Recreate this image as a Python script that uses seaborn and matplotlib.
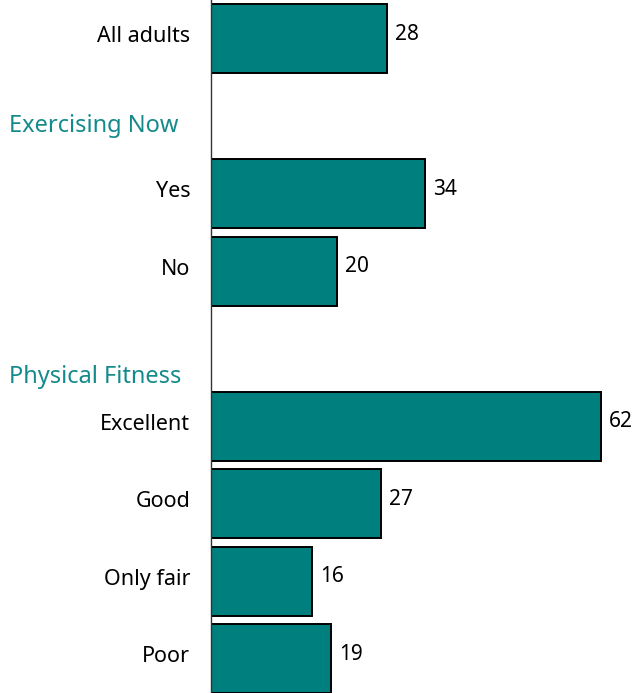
import matplotlib
matplotlib.use("Agg")
import matplotlib.pyplot as plt
import matplotlib.transforms as mtransforms
import seaborn as sns
import pandas as pd

# Share of adults by group (percent)
overall_labels = ["All adults"]
overall_values = [28]

exercise_header = "Exercising Now"
exercise_labels = ["Yes", "No"]
exercise_values = [34, 20]

fitness_header = "Physical Fitness"
fitness_labels = ["Excellent", "Good", "Only fair", "Poor"]
fitness_values = [62, 27, 16, 19]

BAR_COLOR = "#007F7F"
HEADER_COLOR = "#148A8A"

groups = [
    (None, overall_labels, overall_values),
    (exercise_header, exercise_labels, exercise_values),
    (fitness_header, fitness_labels, fitness_values),
]

# Lay out rows: each section header takes one slot above its bars
rows, headers = [], []
slot = 0
for header, labels, values in groups:
    if header is not None:
        headers.append((header, slot))
        slot += 1
    for lab, val in zip(labels, values):
        rows.append({"label": lab, "value": val, "pos": slot})
        slot += 1
df = pd.DataFrame(rows)

sns.set_theme(style="white")
plt.rcParams["font.family"] = ["Noto Sans", "DejaVu Sans"]

fig = plt.figure(figsize=(6.34, 6.93), dpi=100)
ax = fig.add_axes([211 / 634, 0, 1 - 211 / 634, 1])

sns.barplot(data=df, x="value", y="pos", orient="h", native_scale=True,
            width=0.89, color=BAR_COLOR, saturation=1,
            edgecolor="black", linewidth=1.4, ax=ax)

ax.set_xlim(0, 423 / 6.29)
ax.set_ylim(8.445, -0.5)

ax.set_yticks(df["pos"])
ax.set_yticklabels(df["label"], fontsize=15.5, color="black")
ax.tick_params(axis="y", length=0, pad=15)
# nudge category labels slightly above bar centres
lift = mtransforms.ScaledTranslation(0, 0.045, fig.dpi_scale_trans)
for lbl in ax.get_yticklabels():
    lbl.set_transform(lbl.get_transform() + lift)
ax.set_xticks([])
ax.set_xlabel("")
ax.set_ylabel("")

for s in ["top", "right", "bottom"]:
    ax.spines[s].set_visible(False)
ax.spines["left"].set_color("#333333")
ax.spines["left"].set_linewidth(1.0)

# Value labels at bar ends
for _, r in df.iterrows():
    ax.annotate(f"{r['value']:g}", xy=(r["value"], r["pos"]),
                xytext=(6, 3), textcoords="offset points",
                va="center", ha="left", fontsize=15, color="black")

# Section headers, flush left on the figure
header_offsets = {exercise_header: 0.13, fitness_header: 0.36}
for name, pos in headers:
    y_disp = ax.transData.transform((0, pos + header_offsets[name]))[1]
    y_fig = fig.transFigure.inverted().transform((0, y_disp))[1]
    fig.text(9 / 634, y_fig, name, ha="left", va="center",
             fontsize=17, color=HEADER_COLOR)

fig.savefig("out.png", dpi=100)
